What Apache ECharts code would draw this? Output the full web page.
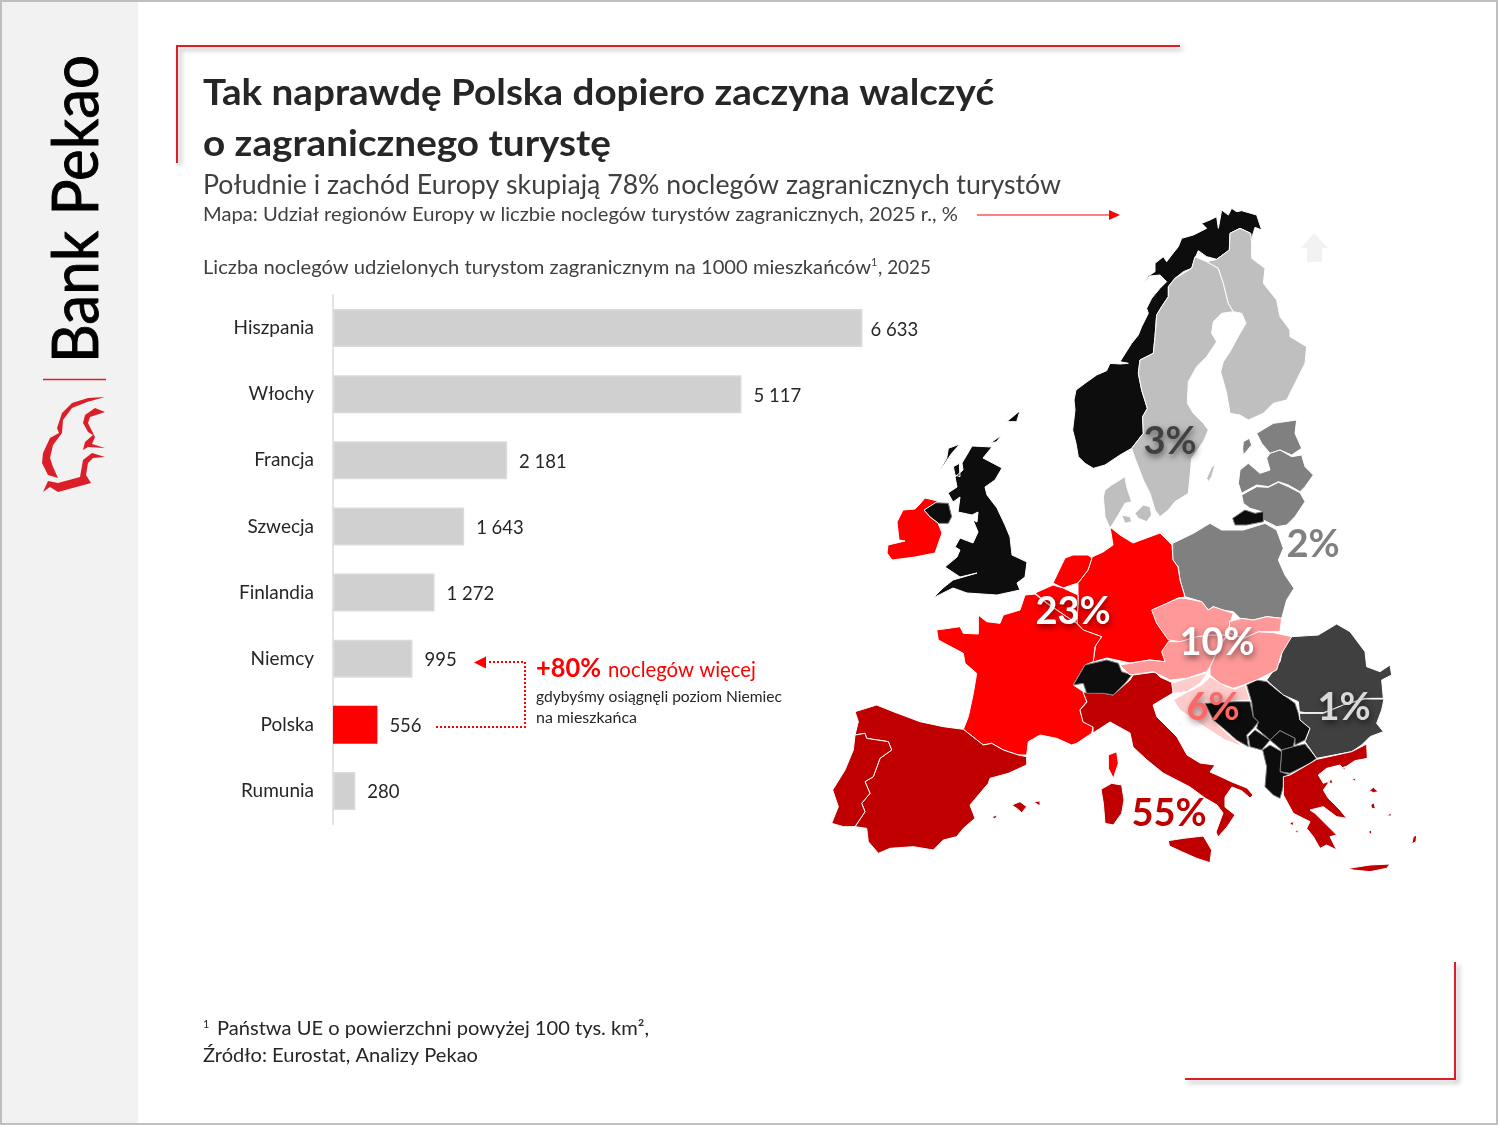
<!DOCTYPE html>
<html><head><meta charset="utf-8">
<style>html,body{margin:0;padding:0;background:#fff}#c{width:1498px;height:1125px}</style>
<script src="https://cdn.jsdelivr.net/npm/echarts@6/dist/echarts.min.js"></script>
</head><body><div id="c"></div>
<script>
// ---------- data ----------
const categories = ['Hiszpania','Włochy','Francja','Szwecja','Finlandia','Niemcy','Polska','Rumunia'];
const nightsPer1000 = [6633,5117,2181,1643,1272,995,556,280];
const highlighted = 'Polska';

const regionNames = ['Spain','Portugal','Italy','Greece','France','Germany','Netherlands','Belgium','Ireland',
 'Austria','Czechia','Slovakia','Hungary','Slovenia','Croatia','Sweden','Finland','Denmark',
 'Poland','Estonia','Latvia','Lithuania','Romania','Bulgaria',
 'Norway','UK','NorthernIreland','Switzerland','Kaliningrad','Bosnia','Serbia','Montenegro','Kosovo','Macedonia','Albania'];
const regionShares = [55,55,55,55,23,23,23,23,23,10,10,10,10,6,6,3,3,3,2,2,2,2,1,1,
 null,null,null,null,null,null,null,null,null,null,null];
const shareLabels = [3,2,23,10,6,1,55];

// ---------- hand-traced region outlines (map geometry, in picture units) ----------
const T=(ox,oy,p)=>p.map(([x,y])=>[ox+x/3,-(oy+y/3)]);
const S=p=>p.map(([x,y])=>[x,-y]);
const N=(p)=>T(1060,200,p), W=(p)=>T(820,520,p), E=(p)=>T(1110,520,p), U=(p)=>T(820,200,p);
const outlines={
Norway:[N([[515,25],[530,35],[545,32],[590,45],[605,90],[585,82],[578,105],[575,130],[572,100],[540,85],[510,100],[508,150],[470,178],[440,170],[415,152],[405,175],[395,205],[370,215],[345,235],[325,260],[325,290],[305,320],[290,345],[285,410],[280,460],[240,480],[235,520],[245,570],[262,625],[248,650],[250,700],[215,745],[180,765],[135,795],[100,805],[75,790],[55,770],[48,730],[38,690],[45,630],[42,600],[48,570],[75,550],[110,525],[140,512],[150,490],[180,492],[205,490],[180,485],[215,430],[235,405],[245,380],[265,340],[260,325],[275,295],[300,265],[320,245],[300,225],[270,228],[250,250],[265,228],[285,215],[285,190],[310,170],[320,185],[335,165],[355,140],[365,115],[400,105],[420,95],[440,85],[425,70],[450,60],[470,50],[475,85],[485,30],[505,45]])],
Sweden:[N([[405,170],[440,185],[475,205],[490,250],[505,310],[520,335],[485,340],[460,365],[455,400],[470,425],[440,470],[410,500],[385,545],[382,610],[400,640],[430,670],[445,690],[430,725],[395,775],[390,830],[385,880],[345,905],[325,930],[300,950],[285,930],[270,880],[250,840],[225,775],[215,745],[250,700],[248,650],[262,625],[245,570],[235,520],[240,480],[280,460],[285,410],[290,345],[305,320],[325,290],[325,260],[345,235],[395,205]]),N([[440,835],[455,800],[465,795],[455,830],[445,845]])],
Finland:[N([[510,100],[540,85],[572,100],[575,130],[575,175],[615,205],[610,250],[650,300],[660,350],[690,390],[690,410],[740,440],[735,490],[700,560],[680,600],[640,610],[610,640],[565,660],[540,645],[510,640],[500,580],[482,515],[490,485],[510,455],[540,400],[558,370],[545,340],[520,335],[505,310],[490,250],[475,205],[440,185],[470,178],[508,150]])],
Denmark:[N([[135,870],[155,855],[195,830],[200,860],[215,905],[195,910],[175,945],[150,985],[135,950],[130,890]]),N([[225,940],[250,915],[270,920],[275,945],[260,965],[235,955]]),N([[185,945],[210,950],[215,965],[195,970]])],
Estonia:[N([[590,700],[640,670],[710,660],[705,700],[725,745],[695,765],[660,750],[630,760],[605,730]]),N([[550,725],[568,715],[575,735],[550,765],[548,745]])],
Latvia:[N([[630,760],[660,750],[695,770],[725,765],[735,800],[760,825],[735,860],[720,875],[685,855],[655,845],[625,860],[590,855],[545,880],[535,850],[540,810],[565,790],[600,820],[630,810],[620,775]])],
Lithuania:[N([[545,885],[590,860],[625,862],[655,847],[685,860],[720,878],[735,905],[705,950],[680,975],[650,980],[610,960],[605,935],[570,925],[550,910]])],
Kaliningrad:[N([[518,955],[555,930],[585,940],[610,935],[610,965],[560,975],[525,975]])],
Poland:[E([[188,70],[250,40],[300,10],[335,30],[400,30],[465,10],[500,30],[520,85],[505,120],[525,165],[552,205],[530,240],[515,295],[470,290],[430,300],[390,295],[370,275],[335,270],[310,260],[295,270],[275,245],[225,230],[210,180],[205,140],[188,120]])],
Germany:[S([[1110,527],[1120,535],[1133,543],[1160,533],[1172,545],[1173,560],[1178,567],[1180,580],[1185,597],[1178,598],[1153,610],[1160,623],[1175,635],[1165,648],[1165,662],[1150,660],[1130,663],[1107,658],[1093,662],[1097,637],[1102,637],[1083,630],[1077,623],[1078,603],[1078,583],[1088,570],[1092,557],[1103,552],[1113,545]])],
Netherlands:[S([[1065,558],[1073,555],[1088,555],[1092,558],[1088,570],[1078,583],[1063,588],[1053,583]])],
Belgium:[S([[1035,593],[1053,585],[1063,588],[1078,595],[1078,603],[1077,623],[1067,617],[1047,603]])],
France:[W([[615,225],[645,222],[680,250],[740,290],[770,310],[790,330],[845,350],[825,380],[820,425],[795,435],[760,495],[790,515],[800,545],[780,570],[790,605],[820,620],[815,640],[770,670],[755,675],[710,655],[660,645],[625,665],[620,705],[595,705],[550,690],[515,670],[490,675],[430,628],[445,590],[460,520],[470,460],[435,430],[430,400],[355,360],[350,330],[420,320],[430,340],[475,342],[475,285],[500,305],[540,310],[550,285],[600,270],[610,240]]),W([[865,705],[890,695],[895,730],[880,775],[865,745]])],
Spain:[W([[105,575],[170,555],[220,575],[300,605],[370,620],[430,628],[490,675],[515,670],[550,690],[595,705],[620,710],[620,735],[565,760],[510,775],[505,790],[450,855],[465,895],[430,925],[410,950],[370,960],[340,990],[280,980],[210,985],[175,1000],[145,965],[140,925],[105,920],[135,875],[125,850],[150,820],[135,785],[160,770],[180,715],[215,690],[205,665],[140,655],[135,640],[105,645],[115,605]]),W([[575,855],[600,845],[620,860],[605,878],[590,865]]),W([[640,845],[660,843],[660,858]]),W([[515,890],[533,885],[525,897]])],
Portugal:[W([[105,645],[135,640],[140,655],[205,665],[215,690],[180,715],[160,770],[135,785],[150,820],[125,850],[135,875],[105,920],[70,920],[35,910],[55,860],[38,810],[75,750],[100,690]])],
Italy:[S([[1083,692],[1103,693],[1113,695],[1130,680],[1133,675],[1155,672],[1160,677],[1173,683],[1173,693],[1153,705],[1157,717],[1177,737],[1187,755],[1200,763],[1215,765],[1210,772],[1217,775],[1232,782],[1247,788],[1253,795],[1250,798],[1242,791],[1232,787],[1225,797],[1225,807],[1235,815],[1227,827],[1218,837],[1216,832],[1223,813],[1217,805],[1205,798],[1190,787],[1163,773],[1147,760],[1133,747],[1130,733],[1110,722],[1093,733],[1093,727],[1083,722],[1080,710],[1087,702]]),W([[843,808],[875,790],[905,795],[912,840],[905,880],[880,915],[855,910],[850,850]]),E([[175,962],[220,955],[280,948],[305,990],[300,1028],[260,1015],[215,995],[178,978]])],
Switzerland:[W([[760,495],[795,435],[860,420],[895,430],[905,455],[935,465],[915,490],[880,525],[850,520],[800,520],[790,490]])],
Slovenia:[E([[185,490],[230,475],[280,462],[295,455],[270,490],[230,515],[190,520]])],
Croatia:[E([[190,540],[225,520],[275,495],[300,470],[350,500],[375,507],[405,495],[420,540],[290,548],[310,600],[350,640],[400,680],[345,660],[290,625],[240,590],[210,570]])],
Bosnia:[E([[285,550],[380,545],[420,545],[430,590],[445,605],[430,625],[410,645],[415,680],[380,660],[340,625],[310,600]])],
Serbia:[E([[410,495],[440,480],[470,485],[500,510],[555,550],[565,580],[570,600],[600,625],[585,660],[555,675],[555,655],[510,632],[480,660],[440,625],[445,605],[430,590],[425,545]])],
Montenegro:[E([[415,650],[435,630],[480,660],[455,690],[420,680]])],
Kosovo:[E([[480,660],[510,632],[555,655],[550,680],[515,690]])],
Macedonia:[E([[515,690],[550,680],[585,672],[620,715],[600,730],[540,760],[510,755]])],
Albania:[E([[458,690],[480,675],[515,695],[510,755],[540,765],[520,800],[510,835],[490,825],[465,800],[470,740]])],
Romania:[E([[545,350],[625,345],[680,312],[720,335],[765,395],[770,440],[810,455],[840,435],[845,465],[815,480],[820,535],[765,535],[700,555],[640,578],[585,578],[568,575],[565,545],[520,525],[480,490],[470,480],[510,425],[520,380]])],
Bulgaria:[E([[568,580],[640,580],[700,555],[765,537],[822,537],[815,570],[800,610],[820,635],[780,650],[755,675],[725,695],[620,715],[585,665],[600,625],[570,600]])],
Hungary:[E([[300,440],[330,375],[360,340],[400,355],[445,335],[490,338],[545,350],[515,400],[500,450],[440,480],[400,495],[370,505],[330,490],[300,465]])],
Austria:[E([[30,435],[60,430],[120,420],[165,425],[155,395],[175,365],[210,365],[260,350],[300,345],[350,345],[330,375],[300,440],[290,455],[230,475],[180,480],[130,455],[60,465],[45,450]])],
Czechia:[E([[125,270],[205,235],[225,235],[275,245],[295,270],[310,260],[370,280],[360,310],[350,345],[300,345],[260,350],[210,365],[175,360],[140,310]])],
Slovakia:[E([[360,340],[358,305],[395,295],[430,300],[470,290],[515,295],[510,335],[445,335],[400,355]])],
Greece:[E([[520,770],[540,765],[600,730],[620,718],[725,695],[770,672],[772,715],[735,722],[700,745],[690,735],[650,745],[625,765],[640,790],[660,782],[640,810],[655,835],[690,870],[710,895],[680,890],[640,860],[600,870],[615,880],[660,925],[680,945],[660,950],[680,990],[650,975],[630,985],[610,950],[590,925],[600,905],[550,880],[520,825],[520,800]]),E([[715,1045],[780,1035],[840,1032],[830,1045],[780,1055],[730,1050]]),E([[905,972],[910,950],[920,945],[918,965]]),E([[778,812],[790,802],[805,815],[790,818]]),E([[782,855],[792,848],[796,865],[786,866]]),E([[828,887],[842,880],[845,888]]),E([[695,745],[705,740],[705,750]]),E([[725,778],[735,775],[738,785]]),E([[650,785],[665,778],[668,792]]),E([[538,908],[552,905],[548,918]]),E([[555,932],[565,930],[563,940]]),E([[775,935],[785,930],[785,945]])],
UK:[S([[972,446],[992,447],[983,458],[1002,468],[995,480],[985,487],[987,495],[997,508],[1005,525],[1010,537],[1012,555],[1027,562],[1025,577],[1017,583],[1020,590],[997,595],[967,593],[953,588],[933,598],[943,588],[953,580],[977,573],[960,577],[945,567],[957,557],[960,550],[955,547],[960,538],[973,543],[978,532],[973,520],[977,522],[978,512],[972,515],[958,512],[960,497],[953,502],[948,493],[957,487],[955,477],[963,470],[962,463],[968,453]]),U([[356,815],[380,775],[385,745],[420,732],[395,760],[375,790]]),U([[400,800],[418,790],[420,830],[405,825]]),U([[510,730],[545,705],[530,725]]),U([[560,665],[600,632],[590,665]])],
NorthernIreland:[U([[312,930],[345,908],[385,910],[395,950],[385,970],[355,970],[330,950]])],
Ireland:[S([[919,505],[925,498],[938,501],[935,503],[924,510],[930,517],[938,523],[942,533],[935,553],[915,557],[892,560],[887,553],[888,545],[905,541],[899,540],[897,522],[903,510],[915,509]])]
};

const shareColor={55:'#c00000',23:'#ff0000',10:'#ff9999',6:'#ffcccc',3:'#bfbfbf',2:'#808080',1:'#404040'};
const noData='#0d0d0d';
const grayBorder=new Set(['NorthernIreland','Switzerland','Bosnia','Serbia','Montenegro','Kosovo','Macedonia','Albania','Kaliningrad']);
const closeRing=r=>[...r,r[0]];
const features=Object.keys(outlines).map(n=>({type:'Feature',properties:{name:n},
  geometry:{type:'MultiPolygon',coordinates:outlines[n].map(r=>[closeRing(r)])}}));
echarts.registerMap('europe',{type:'FeatureCollection',features});

const mapData=regionNames.map((n,i)=>({name:n,value:regionShares[i],
  itemStyle:{areaColor:regionShares[i]==null?noData:shareColor[regionShares[i]],
    borderColor:grayBorder.has(n)?'#7f7f7f':'#ffffff',borderWidth:1}}));

// ---------- text helpers ----------
const FONT='Lato, Carlito, "Noto Sans", sans-serif';
const mctx=document.createElement('canvas').getContext('2d');
function txt(text,x,cy,size,color,weight,target,extra,styleExtra){
  const font=`${weight||'normal'} ${size}px ${FONT}`;
  mctx.font=font;
  const w=mctx.measureText(text).width;
  return Object.assign({type:'text',x,y:cy,z:20,scaleX:target?target/w:1,silent:true,
    style:Object.assign({text,x:0,y:0,font,fill:color||'#262626',align:'left',verticalAlign:'middle'},styleExtra||{})},extra||{});
}
const shareLabelStyle={
  3:{x:1170,y:442,c:'#404040',sh:'rgba(0,0,0,.55)'},
  2:{x:1313,y:545,c:'#808080',sh:'rgba(0,0,0,0)'},
  23:{x:1073,y:612,c:'#ffffff',sh:'rgba(0,0,0,.55)'},
  10:{x:1217,y:643,c:'#ffffff',sh:'rgba(0,0,0,.55)'},
  6:{x:1213,y:708,c:'#ff6666',sh:'rgba(0,0,0,.45)'},
  1:{x:1344,y:708,c:'#d9d9d9',sh:'rgba(0,0,0,.6)'},
  55:{x:1169,y:814,c:'#c00000',sh:'rgba(0,0,0,0)'}
};
const shareGraphics=shareLabels.map(v=>{const s=shareLabelStyle[v];
  return {type:'text',x:s.x,y:s.y,z:30,silent:true,style:{text:v+'%',x:0,y:0,font:`bold 38px ${FONT}`,
    fill:s.c,align:'center',verticalAlign:'middle',textShadowColor:s.sh,textShadowBlur:6,textShadowOffsetX:1,textShadowOffsetY:3}};});

const RED='#dc1e28';
const frameShadow={shadowColor:'rgba(0,0,0,.35)',shadowBlur:5,shadowOffsetX:3,shadowOffsetY:3};
const poly=(points,fill,smooth)=>({type:'polygon',z:10,silent:true,shape:{points,smooth:smooth||0},style:{fill}});
const line=(points,stroke,lw,extra)=>({type:'polyline',z:10,silent:true,shape:{points},style:Object.assign({stroke,lineWidth:lw,fill:'none'},extra||{})});

const graphics=[
  {type:'rect',z:0,silent:true,shape:{x:1,y:1,width:1496,height:1123},style:{fill:'#fff',stroke:'#bfbfbf',lineWidth:2}},
  {type:'rect',z:1,silent:true,shape:{x:2,y:2,width:136,height:1121},style:{fill:'#f2f2f2'}},
  txt('Bank Pekao',78,363,63,'#000000','normal',308,{rotation:Math.PI/2},{stroke:'#000000',lineWidth:0.9}),
  line([[43,379.5],[106,379.5]],RED,1.5),
  poly([[105,397],[88,398],[72,403],[62,413],[57,428],[59,433],[50,438],[43,453],[42,463],[48,475],[58,478],[53,467],[50,458],[53,445],[62,433],[63,420],[72,408],[87,402]],RED),
  poly([[105,412],[95,408],[85,415],[83,423],[88,432],[93,435],[85,442],[83,450],[88,447],[105,448],[92,444],[95,437],[88,423],[90,417]],RED),
  poly([[105,457],[92,453],[83,460],[80,477],[58,483],[48,481],[43,492],[50,487],[58,492],[91,483],[86,475],[88,463],[93,458]],RED),
  line([[177,163],[177,46],[1180,46]],RED,2,frameShadow),
  line([[1185,1079],[1455,1079],[1455,962]],RED,2,frameShadow),
  txt('Tak naprawdę Polska dopiero zaczyna walczyć',203,93,37,'#262626','bold',791),
  txt('o zagranicznego turystę',203,144,37,'#262626','bold',408),
  txt('Południe i zachód Europy skupiają 78% noclegów zagranicznych turystów',203,185.5,27,'#404040','normal',858),
  txt('Mapa: Udział regionów Europy w liczbie noclegów turystów zagranicznych, 2025 r., %',203,215,19.5,'#404040','normal',755),
  txt('Liczba noclegów udzielonych turystom zagranicznym na 1000 mieszkańców',203,268,19.5,'#404040','normal',668),
  txt('1',871,262,11,'#404040'),
  txt(', 2025',878,268,19.5,'#404040','normal',53),
  line([[977,215],[1110,215]],'#ff0000',1.2),
  poly([[1109,210],[1120,215],[1109,220]],'#ff0000'),
  poly([[1314,233],[1328,248],[1322,248],[1322,262],[1307,262],[1307,248],[1301,248]],'#f2f2f2'),
  line([[436,727],[525,727],[525,662],[487,662]],'#ff0000',2,{lineDash:[2,2]}),
  poly([[474,662.5],[486,656.5],[486,668.5]],'#ff0000'),
  txt('+80%',536,668,27,'#ff0000','bold',65),
  txt('noclegów więcej',608,670,20.5,'#ff0000','normal',148),
  txt('gdybyśmy osiągnęli poziom Niemiec',536,697,15.5,'#262626','normal',246),
  txt('na mieszkańca',536,718,15.5,'#262626','normal',101),
  txt('1',203,1024,11,'#262626'),
  txt('Państwa UE o powierzchni powyżej 100 tys. km²,',217,1029,19.5,'#262626','normal',432),
  txt('Źródło: Eurostat, Analizy Pekao',203,1056,19.5,'#262626','normal',275),
  ...shareGraphics
];

const fmt=v=>String(v).replace(/\B(?=(\d{3})+$)/g,' ');
const chart=echarts.init(document.getElementById('c'),null,{renderer:'canvas',width:1498,height:1125});
chart.setOption({
  animation:false,backgroundColor:'#fff',
  textStyle:{fontFamily:FONT},
  grid:{left:333,top:295,width:558.8,height:529,containLabel:false},
  xAxis:{type:'value',min:0,max:7000,show:false},
  yAxis:{type:'category',inverse:true,data:categories,
    axisLine:{show:true,lineStyle:{color:'#e4e4e4',width:2}},axisTick:{show:false},splitLine:{show:false},
    axisLabel:{margin:19,fontSize:19,color:'#262626',fontFamily:FONT,padding:[2,0,0,0]}},
  series:[
   {type:'bar',data:nightsPer1000.map((v,i)=>({value:v,
       itemStyle:categories[i]===highlighted?{color:'#ff0000',borderWidth:0}:{color:'#d0d0d0',borderColor:'#dadada',borderWidth:1.5},
       label:{distance:i===0?8:12}})),
     barWidth:38,z:5,silent:true,
     label:{show:true,position:'right',offset:[0,1.5],formatter:p=>fmt(p.value),fontSize:18.5,color:'#262626',fontFamily:FONT}},
   {type:'map',map:'europe',left:830,top:205,width:590,height:670,aspectScale:1,
     boundingCoords:[[830,-205],[1420,-875]],roam:false,silent:true,z:6,
     label:{show:false},emphasis:{disabled:true},select:{disabled:true},
     data:mapData}
  ],
  graphic:graphics
});
</script></body></html>
